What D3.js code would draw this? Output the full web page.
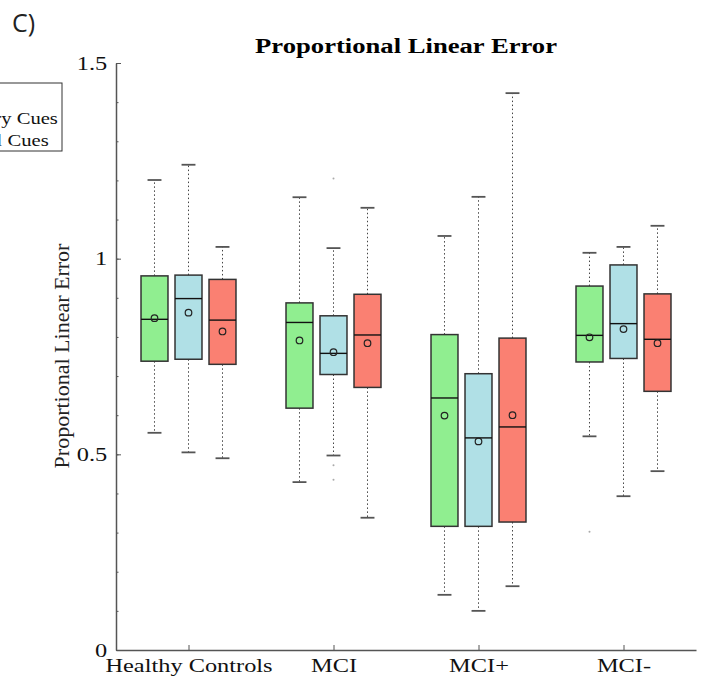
<!DOCTYPE html>
<html>
<head>
<meta charset="utf-8">
<script src="https://cdn.jsdelivr.net/npm/d3@7"></script>
<style>
  body { margin: 0; background: #fff; }
  svg { display: block; }
</style>
</head>
<body>
<div id="chart"></div>
<script>
// group names on the x axis and the three conditions
var categories = ["Healthy Controls", "MCI", "MCI+", "MCI-"];
var conditions = ["None", "Sensory Cues", "Spatial Cues"];
var colors = ["#90EE90", "#B0E0E6", "#FA8072"];

// box stats, [category][condition]
var whiskerLow = [
    [0.555, 0.505, 0.490],
    [0.429, 0.497, 0.338],
    [0.141, 0.100, 0.163],
    [0.546, 0.393, 0.457]];
var q1 = [
    [0.738, 0.743, 0.730],
    [0.618, 0.704, 0.671],
    [0.316, 0.316, 0.327],
    [0.736, 0.745, 0.661]];
var medians = [
    [0.845, 0.898, 0.843],
    [0.837, 0.758, 0.805],
    [0.644, 0.542, 0.570],
    [0.804, 0.834, 0.794]];
var q3 = [
    [0.956, 0.958, 0.947],
    [0.887, 0.854, 0.909],
    [0.806, 0.706, 0.797],
    [0.930, 0.984, 0.910]];
var whiskerHigh = [
    [1.201, 1.240, 1.030],
    [1.157, 1.027, 1.130],
    [1.058, 1.158, 1.423],
    [1.015, 1.030, 1.084]];
var means = [
    [0.848, 0.862, 0.814],
    [0.791, 0.761, 0.784],
    [0.599, 0.533, 0.600],
    [0.799, 0.820, 0.784]];
var outliers = [
    [[], [], []],
    [[], [1.205, 0.472, 0.435], []],
    [[], [], []],
    [[0.302], [], []]];

var yTicks = [0, 0.5, 1, 1.5];

var width = 707, height = 684;
var stretch = 1.25; // text in the figure is squeezed wide

var svg = d3.select("#chart")
    .append("svg")
    .attr("width", width)
    .attr("height", height);

var x = d3.scaleLinear().domain([0.5, 4.5]).range([116, 696]);
var y = d3.scaleLinear().domain([0, 1.5]).range([650, 63]);

var offset = 0.2345, halfBox = 0.093, halfCap = 0.048;

// flatten into one record per box
var boxes = [];
categories.forEach(function (c, i) {
    conditions.forEach(function (k, j) {
        boxes.push({
            cat: i, cond: j,
            pos: i + 1 + (j - 1) * offset,
            lo: whiskerLow[i][j], q1: q1[i][j], med: medians[i][j],
            q3: q3[i][j], hi: whiskerHigh[i][j], mean: means[i][j],
            out: outliers[i][j]
        });
    });
});

// axes
var serif = "'Liberation Serif', 'Times New Roman', serif";

var minorAxis = svg.append("g")
    .attr("transform", "translate(" + x(0.5) + ",0)")
    .call(d3.axisLeft(y).tickValues(d3.range(0, 16).map(function (d) { return d / 10; }))
        .tickSize(-2.5).tickSizeOuter(0).tickFormat(""));
minorAxis.select(".domain").remove();
minorAxis.selectAll("line").attr("stroke", "#555");

var yAxis = svg.append("g")
    .attr("transform", "translate(" + x(0.5) + ",0)")
    .call(d3.axisLeft(y).tickValues(yTicks).tickSize(-5).tickSizeOuter(0).tickPadding(7)
        .tickFormat(d3.format("")));

var xAxis = svg.append("g")
    .attr("transform", "translate(0," + y(0) + ")")
    .call(d3.axisBottom(x).tickValues([1, 2, 3, 4]).tickSize(-5).tickSizeOuter(0).tickPadding(8)
        .tickFormat(function (d) { return categories[d - 1]; }));

[yAxis, xAxis].forEach(function (a) {
    a.select(".domain").attr("stroke", "#555").attr("stroke-width", 1.5);
    a.selectAll(".tick line").attr("stroke", "#555");
    a.selectAll("text")
        .attr("fill", "#111")
        .style("font-family", serif)
        .style("font-size", "19.5px")
        .attr("transform", "scale(" + stretch + ",1)");
});

// whiskers
var g = svg.append("g");
g.selectAll(".whisker")
    .data(boxes.flatMap(function (b) {
        return [{ b: b, a: b.q3, e: b.hi }, { b: b, a: b.q1, e: b.lo }];
    }))
    .enter().append("line")
    .attr("x1", function (d) { return x(d.b.pos); })
    .attr("x2", function (d) { return x(d.b.pos); })
    .attr("y1", function (d) { return y(d.a); })
    .attr("y2", function (d) { return y(d.e); })
    .attr("stroke", "#444")
    .attr("stroke-width", 1)
    .attr("stroke-dasharray", "1.5,2.5");

g.selectAll(".cap")
    .data(boxes.flatMap(function (b) { return [{ b: b, v: b.hi }, { b: b, v: b.lo }]; }))
    .enter().append("line")
    .attr("x1", function (d) { return x(d.b.pos - halfCap); })
    .attr("x2", function (d) { return x(d.b.pos + halfCap); })
    .attr("y1", function (d) { return y(d.v); })
    .attr("y2", function (d) { return y(d.v); })
    .attr("stroke", "#555")
    .attr("stroke-width", 1.8);

// boxes
g.selectAll(".box")
    .data(boxes)
    .enter().append("rect")
    .attr("x", function (d) { return x(d.pos - halfBox); })
    .attr("width", function (d) { return x(d.pos + halfBox) - x(d.pos - halfBox); })
    .attr("y", function (d) { return y(d.q3); })
    .attr("height", function (d) { return y(d.q1) - y(d.q3); })
    .attr("fill", function (d) { return colors[d.cond]; })
    .attr("stroke", "#333")
    .attr("stroke-width", 1.5);

g.selectAll(".median")
    .data(boxes)
    .enter().append("line")
    .attr("x1", function (d) { return x(d.pos - halfBox); })
    .attr("x2", function (d) { return x(d.pos + halfBox); })
    .attr("y1", function (d) { return y(d.med); })
    .attr("y2", function (d) { return y(d.med); })
    .attr("stroke", "#111")
    .attr("stroke-width", 1.4);

g.selectAll(".mean")
    .data(boxes)
    .enter().append("circle")
    .attr("cx", function (d) { return x(d.pos); })
    .attr("cy", function (d) { return y(d.mean); })
    .attr("r", 3.3)
    .attr("fill", "none")
    .attr("stroke", "#222")
    .attr("stroke-width", 1.2);

g.selectAll(".outlier")
    .data(boxes.flatMap(function (b) { return b.out.map(function (v) { return { b: b, v: v }; }); }))
    .enter().append("circle")
    .attr("cx", function (d) { return x(d.b.pos); })
    .attr("cy", function (d) { return y(d.v); })
    .attr("r", 1)
    .attr("fill", "#aaa");

// titles
svg.append("text")
    .attr("transform", "translate(406,53) scale(1.3,1)")
    .attr("text-anchor", "middle")
    .style("font-family", serif)
    .style("font-weight", "bold")
    .style("font-size", "20.5px")
    .text("Proportional Linear Error");

svg.append("text")
    .attr("transform", "translate(69,356) rotate(-90)")
    .attr("text-anchor", "middle")
    .style("font-family", serif)
    .style("font-size", "22px")
    .attr("fill", "#222")
    .text("Proportional Linear Error");

svg.append("text")
    .attr("x", 12)
    .attr("y", 32)
    .style("font-family", "'Open Sans', sans-serif")
    .style("font-size", "25px")
    .attr("fill", "#222")
    .text("C)");

// legend, partly off the left edge
var legend = svg.append("g");
legend.append("rect")
    .attr("x", -120).attr("y", 83)
    .attr("width", 182).attr("height", 68)
    .attr("fill", "#fff")
    .attr("stroke", "#333")
    .attr("stroke-width", 1);

var legendScale = 1.25;
var legendText = legend.selectAll("text")
    .data(conditions)
    .enter().append("text")
    .style("font-family", serif)
    .style("font-size", "16.5px")
    .attr("fill", "#111")
    .text(function (d) { return d; });

var longest = legendText.nodes()[1].getComputedTextLength() * legendScale;
var textX = 58 - longest;
legendText.attr("transform", function (d, i) {
    return "translate(" + textX + "," + (102 + i * 22) + ") scale(" + legendScale + ",1)";
});
legend.selectAll(".swatch")
    .data(conditions)
    .enter().append("rect")
    .attr("x", textX - 32)
    .attr("y", function (d, i) { return 90 + i * 22; })
    .attr("width", 22).attr("height", 13)
    .attr("fill", function (d, i) { return colors[i]; })
    .attr("stroke", "#333");
</script>
</body>
</html>
